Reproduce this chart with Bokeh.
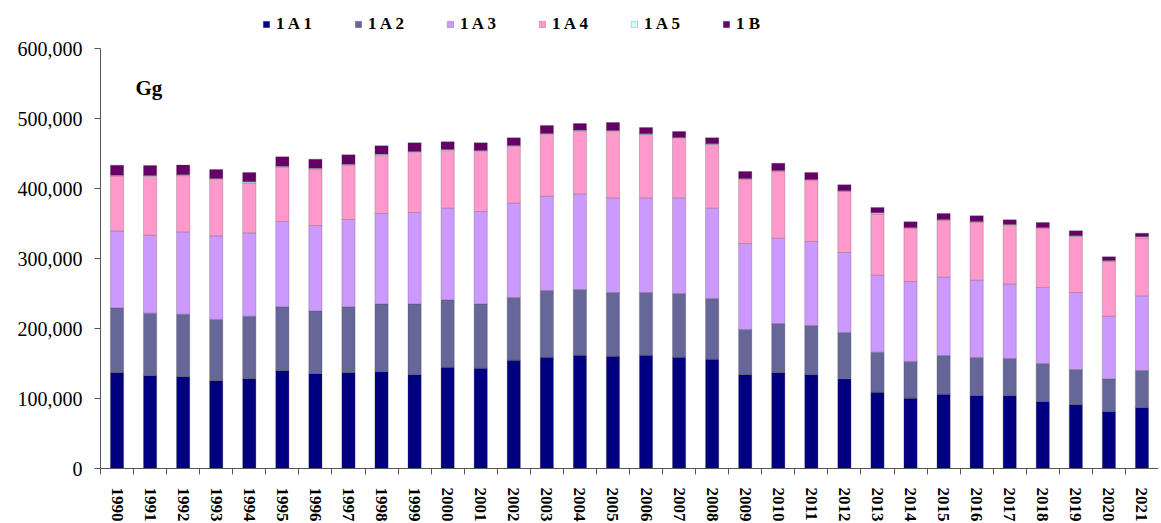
from bokeh.plotting import figure
from bokeh.models import (ColumnDataSource, Legend, LegendItem, Label, FixedTicker,
                          NumeralTickFormatter, Range1d, PrintfTickFormatter)
from bokeh.embed import file_html
from bokeh.resources import INLINE

years = list(range(1990, 2022))

# values in thousand Gg
a1 = [137.1, 132.9, 131.4, 125.7, 128.6, 140.0, 135.7, 137.1, 138.6, 134.3,
      144.8, 143.3, 154.8, 159.0, 161.9, 160.5, 161.9, 159.0, 156.2, 134.3,
      137.1, 134.3, 128.1, 109.0, 100.5, 106.2, 104.3, 104.3, 95.7, 91.4,
      81.4, 87.1]
a2 = [92.4, 89.0, 89.1, 87.2, 89.0, 91.0, 89.5, 93.9, 96.6, 100.9,
      96.2, 91.9, 89.5, 95.3, 93.8, 90.9, 89.5, 91.0, 86.7, 64.3,
      70.0, 70.0, 66.2, 57.2, 52.4, 55.2, 54.3, 52.8, 54.3, 50.0,
      46.7, 52.9]
a3 = [110.0, 111.4, 117.6, 119.5, 119.1, 121.9, 121.9, 124.7, 129.1, 130.5,
      130.9, 131.9, 134.7, 134.7, 136.7, 135.3, 135.3, 136.7, 129.0, 122.8,
      121.9, 120.0, 114.3, 110.0, 114.2, 111.9, 110.4, 106.7, 108.6, 110.0,
      89.5, 106.7]
a4 = [78.5, 84.3, 80.4, 80.9, 71.3, 78.0, 80.9, 78.1, 82.7, 86.2,
      82.3, 86.2, 81.4, 88.6, 89.4, 95.2, 90.4, 85.2, 90.9, 92.1,
      95.9, 87.8, 87.3, 87.5, 76.4, 81.6, 83.1, 83.3, 84.9, 80.2,
      78.7, 82.8]
a5 = [1.0, 1.0, 1.0, 1.0, 1.5, 1.0, 1.0, 1.0, 2.0, 1.0,
      1.5, 1.0, 1.0, 1.0, 1.5, 1.0, 1.0, 1.0, 1.0, 0.8,
      0.8, 0.8, 0.8, 1.5, 0.8, 0.8, 0.8, 1.5, 0.8, 0.8,
      0.8, 1.5]
b1 = [14.3, 14.4, 14.0, 12.8, 13.4, 13.3, 12.9, 13.3, 12.0, 12.3,
      11.0, 10.9, 11.0, 11.4, 9.6, 11.4, 9.0, 8.5, 8.6, 10.0,
      10.5, 10.0, 8.5, 7.7, 8.1, 8.6, 8.1, 6.6, 7.1, 7.1,
      5.3, 5.2]

series = ["1 A 1", "1 A 2", "1 A 3", "1 A 4", "1 A 5", "1 B"]
colors = ["#000080", "#666699", "#CC99FF", "#FF99CC", "#CCFFFF", "#660066"]
y_ticks = [0, 100000, 200000, 300000, 400000, 500000, 600000]
y_max = 600000

data = {"year": years}
for name, vals in zip(series, [a1, a2, a3, a4, a5, b1]):
    data[name] = [v * 1000 for v in vals]
src = ColumnDataSource(data)

# frame extends above the 600,000 axis end so the legend fits inside it
p = figure(frame_width=1058, frame_height=468, output_backend="svg",
           toolbar_location=None,
           x_range=Range1d(1989.5, 2021.5),
           y_range=Range1d(0, y_max * 468 / 420),
           min_border_left=100, min_border_right=0, min_border_top=0,
           min_border_bottom=52)
p.outline_line_color = None
p.xgrid.grid_line_color = None
p.ygrid.grid_line_color = None

rs = p.vbar_stack(series, x="year", width=0.4, source=src, color=colors,
                  line_color="#444444", line_alpha=0.25, line_width=1)

# x axis
xa = p.xaxis[0]
xa.ticker = FixedTicker(ticks=years, minor_ticks=[y - 0.5 for y in years] + [2021.5])
xa.formatter = PrintfTickFormatter(format="%d")
xa.major_tick_out = 0
xa.major_tick_in = 0
xa.minor_tick_out = 6
xa.minor_tick_in = 0
xa.minor_tick_line_color = "#555555"
xa.axis_line_color = "#555555"
xa.major_label_orientation = "vertical"
xa.major_label_standoff = 13
xa.major_label_text_font = "Liberation Serif"
xa.major_label_text_font_style = "bold"
xa.major_label_text_font_size = "17px"
xa.major_label_text_color = "black"

# y axis
ya = p.yaxis[0]
ya.ticker = FixedTicker(ticks=y_ticks)
ya.bounds = (0, y_max)
ya.formatter = NumeralTickFormatter(format="0,0")
ya.major_tick_out = 6
ya.major_tick_in = 0
ya.minor_tick_line_color = None
ya.axis_line_color = "#555555"
ya.major_tick_line_color = "#555555"
ya.major_label_standoff = 12
ya.major_label_text_font = "Liberation Serif"
ya.major_label_text_font_size = "20px"
ya.major_label_text_color = "black"

# unit label
p.add_layout(Label(x=35, y=381, x_units="screen", y_units="screen", text="Gg",
                   text_font="Liberation Serif", text_font_style="bold",
                   text_font_size="21px", text_color="black",
                   text_baseline="alphabetic"))

legend = Legend(items=[LegendItem(label=s, renderers=[r]) for s, r in zip(series, rs)],
                orientation="horizontal", location=(162, 434),
                padding=0, margin=0, spacing=18, label_width=60,
                glyph_width=8, glyph_height=8, label_standoff=6,
                label_text_font="Liberation Serif", label_text_font_style="bold",
                label_text_font_size="17px", label_text_color="black",
                border_line_color=None, background_fill_alpha=0)
p.add_layout(legend, "center")

open("out.html", "w").write(file_html(p, INLINE))
